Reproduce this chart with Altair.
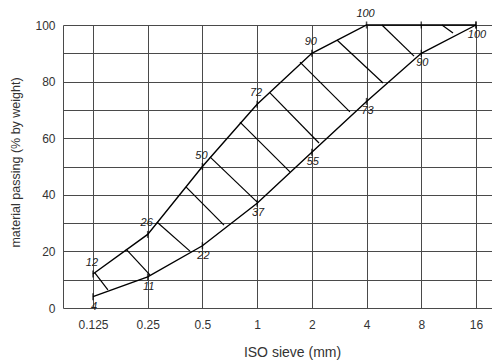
import altair as alt
import pandas as pd

# ISO sieve sizes (mm) and grading envelope limits (% passing)
sieve = [0.125, 0.25, 0.5, 1, 2, 4, 8, 16]
upper = [12, 26, 50, 72, 90, 100, 100, 100]
lower = [4, 11, 22, 37, 55, 73, 90, 100]

# labelled points on the upper limit
upper_lab_sieve = [0.125, 0.25, 0.5, 1, 2, 4]
upper_lab_val = [12, 26, 50, 72, 90, 100]
# labelled points on the lower limit
lower_lab_sieve = [0.125, 0.25, 0.5, 1, 2, 4, 8, 16]
lower_lab_val = [4, 11, 22, 37, 55, 73, 90, 100]

# hatching strokes between the two limits
hatch_x1 = [0.128, 0.190, 0.281, 0.406, 0.550, 0.805, 1.177, 1.721, 2.75, 4.86, 10.4]
hatch_y1 = [12.4, 20.8, 30.4, 42.8, 53.4, 65.7, 76.0, 86.9, 94.7, 100, 100]
hatch_x2 = [0.151, 0.257, 0.427, 0.657, 0.998, 1.516, 2.19, 3.24, 4.93, 7.3, 11.96]
hatch_y2 = [6.4, 11.7, 20.1, 29.3, 37.5, 48.1, 58.3, 69.3, 79.5, 89.0, 97.2]

y_ticks = [0, 10, 20, 30, 40, 50, 60, 70, 80, 90, 100]

FONT = "Liberation Sans"
GRID = "#4a4a4a"

curves = pd.DataFrame(
    [{"sieve": s, "pct": u, "limit": "upper"} for s, u in zip(sieve, upper)]
    + [{"sieve": s, "pct": l, "limit": "lower"} for s, l in zip(sieve, lower)]
)
ulab = pd.DataFrame({"sieve": upper_lab_sieve, "pct": upper_lab_val})
llab = pd.DataFrame({"sieve": lower_lab_sieve, "pct": lower_lab_val})
hatch = pd.DataFrame({"x1": hatch_x1, "y1": hatch_y1, "x2": hatch_x2, "y2": hatch_y2})

xscale = alt.Scale(type="log", base=2, domain=[0.0855, 19.6], nice=False)
yscale = alt.Scale(domain=[0, 100], nice=False)

xaxis = alt.Axis(
    values=sieve, labelExpr="datum.value + ''", grid=True, gridColor=GRID,
    gridWidth=1, domain=False, ticks=False, labelPadding=11,
    labelFontSize=12, labelColor="#333", labelFont=FONT,
    title="ISO sieve (mm)", titleFont=FONT, titleFontSize=14,
    titleFontWeight="normal", titleColor="#333", titlePadding=15,
    titleX=229, titleAlign="center",
)
yaxis = alt.Axis(
    values=y_ticks, labelExpr="datum.value % 20 == 0 ? datum.label : ''",
    grid=True, gridColor=GRID, gridWidth=1, domain=True, domainColor=GRID,
    ticks=False, labelPadding=8, labelFontSize=12, labelColor="#333",
    labelFont=FONT, title="material passing (% by weight)", titleFont=FONT,
    titleFontSize=12.5, titleFontWeight="normal", titleColor="#333",
    titlePadding=12, titleY=137, titleAlign="center",
)

X = lambda f: alt.X(f, scale=xscale, axis=xaxis, title="ISO sieve (mm)")
Y = lambda f: alt.Y(f, scale=yscale, axis=yaxis, title="material passing (% by weight)")

lines = alt.Chart(curves).mark_line(color="black", strokeWidth=1.4).encode(
    x=X("sieve:Q"),
    y=Y("pct:Q"),
    detail="limit:N",
    order="sieve:Q",
)

ticks = alt.Chart(curves).mark_tick(
    orient="vertical", size=7, thickness=1.5, color="black"
).encode(
    x=X("sieve:Q"),
    y=Y("pct:Q"),
)

hatching = alt.Chart(hatch).mark_rule(color="black", strokeWidth=1.2).encode(
    x=X("x1:Q"),
    x2="x2:Q",
    y=Y("y1:Q"),
    y2="y2:Q",
)

utext = alt.Chart(ulab).mark_text(
    font=FONT, fontSize=11, fontStyle="italic", color="#222", dx=-1, dy=-11
).encode(
    x=X("sieve:Q"),
    y=Y("pct:Q"),
    text="pct:Q",
)

ltext = alt.Chart(llab).mark_text(
    font=FONT, fontSize=11, fontStyle="italic", color="#222", dx=1, dy=10
).encode(
    x=X("sieve:Q"),
    y=Y("pct:Q"),
    text="pct:Q",
)

chart = alt.layer(lines, hatching, ticks, utext, ltext).properties(
    width=429, height=283,
    padding={"left": 55, "top": 17, "right": 0, "bottom": 52},
    autosize=alt.AutoSizeParams(type="none"),
).configure_view(stroke=None)

chart.save("out.html", embed_options={"renderer": "svg", "actions": False})
